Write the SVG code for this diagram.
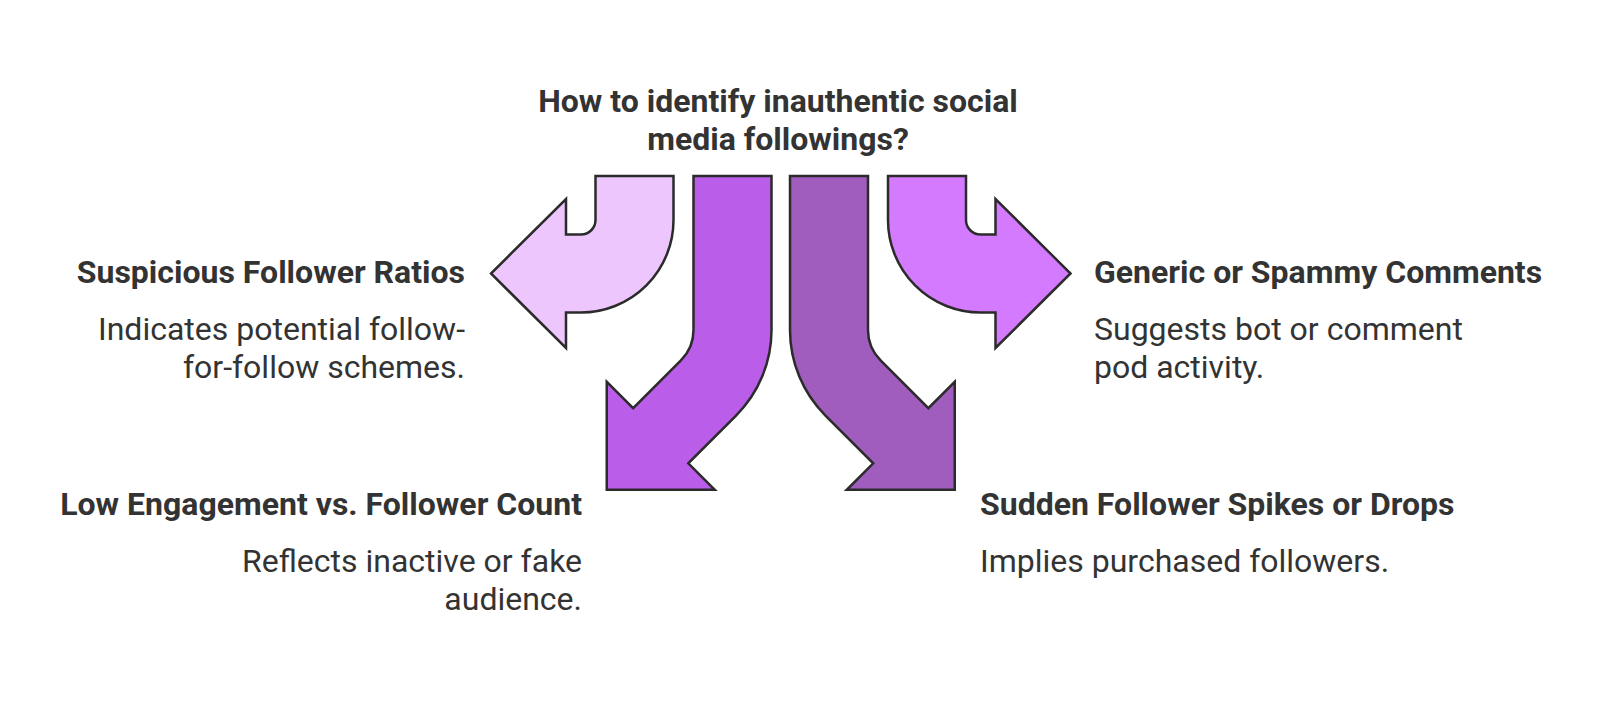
<svg xmlns="http://www.w3.org/2000/svg" width="1600" height="704" viewBox="0 0 1600 704">
<style>
.arrow{stroke:#2b2b2b;stroke-width:2.5;stroke-linejoin:miter}
.t{font-family:Roboto,"Liberation Sans",sans-serif;fill:#333333}
.h{font-weight:700;font-size:32px}
.b{font-weight:400;font-size:32px}
</style>
<rect width="1600" height="704" fill="#ffffff"/>
<g id="title">
<text class="t h" x="778" y="112" text-anchor="middle">How to identify inauthentic social</text>
<text class="t h" x="778" y="150" text-anchor="middle">media followings?</text>
</g>
<g id="connectors">
<path id="arrow-suspicious" class="arrow" fill="#ECC6FD" d="M 595.5 176 H 673.5 V 220 A 92.5 92.5 0 0 1 581 312.5 H 566 V 348 L 491 273.5 L 566 199 V 234.5 H 581 A 14.5 14.5 0 0 0 595.5 220 Z"/>
<path id="arrow-low" class="arrow" fill="#BA5DE8" d="M 693.5 176 H 771.5 V 330 A 121 121 0 0 1 736.06 415.56 L 688.3 463.3 L 714.75 489.75 H 606.75 V 381.75 L 633.15 408.15 L 680.9 360.4 A 43 43 0 0 0 693.5 330 Z"/>
<path id="arrow-sudden" class="arrow" fill="#A05DBD" d="M 868 176 H 790 V 330 A 121 121 0 0 0 825.44 415.56 L 873.2 463.3 L 846.75 489.75 H 954.75 V 381.75 L 928.35 408.15 L 880.6 360.4 A 43 43 0 0 1 868 330 Z"/>
<path id="arrow-generic" class="arrow" fill="#D47AFE" d="M 966 176 H 888 V 220 A 92.5 92.5 0 0 0 980.5 312.5 H 995.5 V 348 L 1070.5 273.5 L 995.5 199 V 234.5 H 980.5 A 14.5 14.5 0 0 1 966 220 Z"/>
</g>
<g id="node-suspicious">
<text class="t h" x="465" y="283" text-anchor="end">Suspicious Follower Ratios</text>
<text class="t b" x="465" y="340" text-anchor="end">Indicates potential follow-</text>
<text class="t b" x="465" y="378" text-anchor="end">for-follow schemes.</text>
</g>
<g id="node-low">
<text class="t h" x="582" y="515" text-anchor="end">Low Engagement vs. Follower Count</text>
<text class="t b" x="582" y="572" text-anchor="end">Reflects inactive or fake</text>
<text class="t b" x="582" y="610" text-anchor="end">audience.</text>
</g>
<g id="node-generic">
<text class="t h" x="1094" y="283">Generic or Spammy Comments</text>
<text class="t b" x="1094" y="340">Suggests bot or comment</text>
<text class="t b" x="1094" y="378">pod activity.</text>
</g>
<g id="node-sudden">
<text class="t h" x="980" y="515">Sudden Follower Spikes or Drops</text>
<text class="t b" x="980" y="572">Implies purchased followers.</text>
</g>
</svg>
